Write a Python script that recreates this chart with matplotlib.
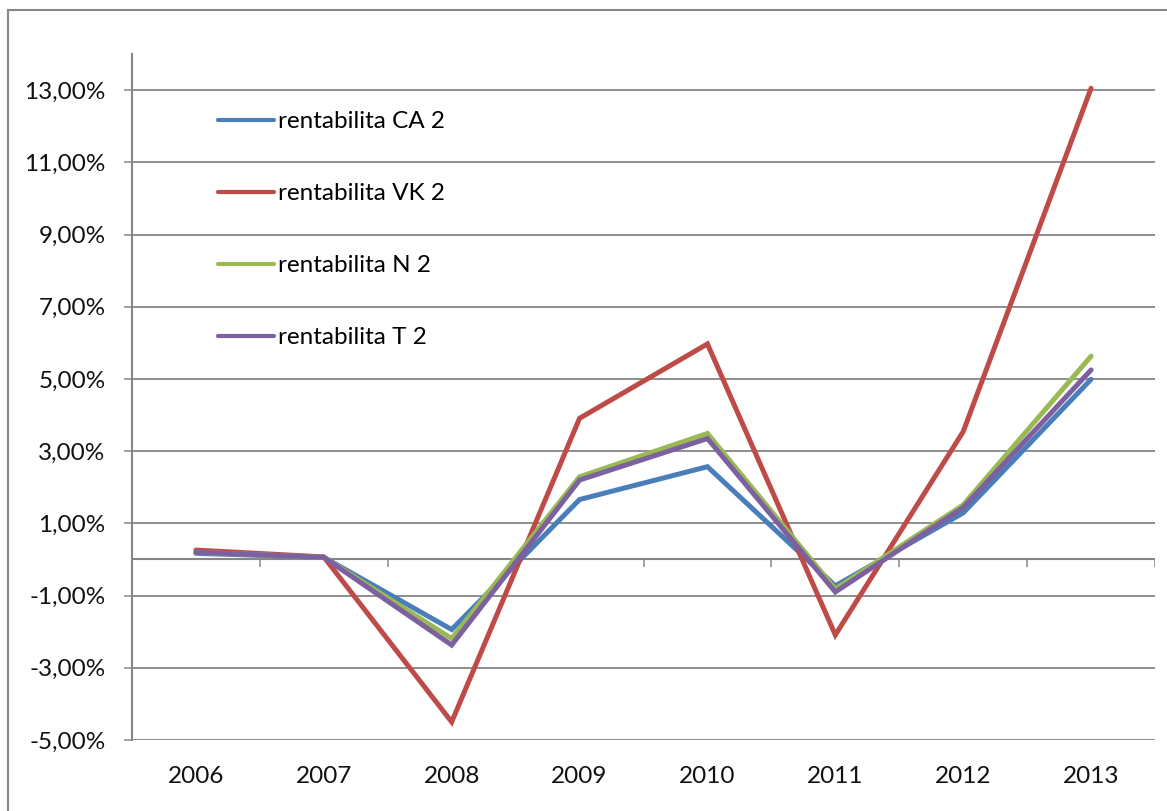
import matplotlib
matplotlib.use('Agg')
import matplotlib.pyplot as plt
from matplotlib.patches import Rectangle
from matplotlib.ticker import FuncFormatter

plt.rcParams['font.family'] = ['Lato', 'DejaVu Sans']

# Yearly profitability figures (in %)
years = ['2006', '2007', '2008', '2009', '2010', '2011', '2012', '2013']
rent_ca = [0.17, 0.06, -1.94, 1.66, 2.57, -0.73, 1.29, 4.99]
rent_vk = [0.26, 0.07, -4.50, 3.91, 5.97, -2.09, 3.54, 13.05]
rent_n = [0.20, 0.06, -2.19, 2.29, 3.49, -0.82, 1.51, 5.63]
rent_t = [0.20, 0.06, -2.37, 2.20, 3.35, -0.90, 1.44, 5.25]

labels = ['rentabilita CA 2', 'rentabilita VK 2', 'rentabilita N 2', 'rentabilita T 2']
colors = ['#4A7EBB', '#BE4B48', '#98B954', '#7D60A0']
grey = '#868686'
fs = 17.5

fig = plt.figure(figsize=(11.67, 8.11), dpi=100)
ax = fig.add_axes([132 / 1167, 1 - 740 / 811, 1023 / 1167, 686 / 811])

x = list(range(len(years)))
for series, label, color in zip([rent_ca, rent_vk, rent_n, rent_t], labels, colors):
    ax.plot(x, series, color=color, linewidth=3.6, label=label,
            solid_joinstyle='miter', solid_capstyle='round', zorder=3)

ax.set_xlim(-0.5, len(years) - 0.5)
ax.set_ylim(-5, 14)

# gridlines on odd percentages
yticks = list(range(-5, 14, 2))
ax.set_yticks(yticks)
ax.yaxis.set_major_formatter(FuncFormatter(lambda v, p: f'{v:.2f}%'.replace('.', ',')))
ax.grid(axis='y', color=grey, linewidth=1.3)
ax.set_axisbelow(True)
ax.tick_params(axis='y', direction='out', length=6, width=1.1, color=grey,
               pad=13, labelsize=fs, labelcolor='#111111')

ax.set_xticks(x)
ax.set_xticklabels(years)
ax.tick_params(axis='x', length=0, pad=19, labelsize=fs, labelcolor='#111111')

for side in ['top', 'right', 'bottom']:
    ax.spines[side].set_visible(False)
ax.spines['left'].set_color(grey)
ax.spines['left'].set_linewidth(1.5)

# horizontal axis crossing at zero with boundary tick marks
ax.axhline(0, color=grey, linewidth=1.5, zorder=2)
bounds = [i - 0.5 for i in range(1, len(years) + 1)]
ax.vlines(bounds, -0.22, 0, color=grey, linewidth=1.1, zorder=2)

leg = ax.legend(loc='upper left', bbox_to_anchor=(0.075, 0.931), frameon=False,
                fontsize=fs, handlelength=2.3, handletextpad=0.14,
                labelspacing=2.1, borderaxespad=0)
for line in leg.get_lines():
    line.set_linewidth(3.0)
    line.set_solid_capstyle('round')

# chart area border
fig.add_artist(Rectangle((8 / 1167, -0.1), 1.2, 1.1 - 10 / 811, transform=fig.transFigure,
                         fill=False, edgecolor=grey, linewidth=1.5, clip_on=False))

fig.savefig('out.png', dpi=100)
